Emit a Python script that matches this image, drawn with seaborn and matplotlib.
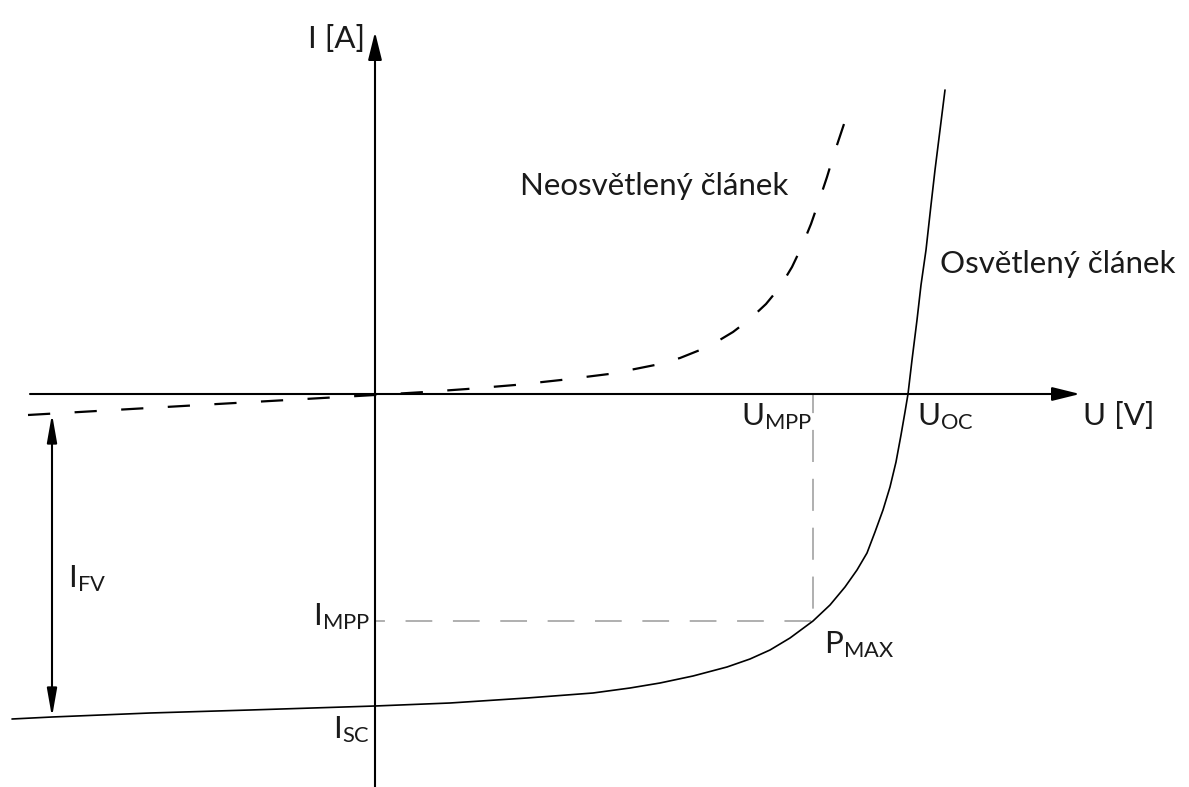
import matplotlib
matplotlib.use("Agg")
import matplotlib.pyplot as plt
import seaborn as sns
import pandas as pd

# Current-voltage characteristic of a PV cell (schematic units)
# Illuminated cell (solid curve)
u_lit = [-3.63, -3.23, -2.25, -1.25, 0.00, 0.75, 1.52, 2.18, 2.55, 2.85, 3.18,
         3.52, 3.75, 3.95, 4.15, 4.38, 4.55, 4.70, 4.82, 4.92, 5.00, 5.08, 5.15,
         5.21, 5.26, 5.30, 5.33, 5.37, 5.42, 5.46, 5.51, 5.56, 5.60, 5.65, 5.70]
i_lit = [-3.25, -3.23, -3.19, -3.16, -3.12, -3.09, -3.04, -2.99, -2.94, -2.89, -2.82,
         -2.73, -2.65, -2.56, -2.44, -2.27, -2.11, -1.93, -1.76, -1.59, -1.38, -1.16, -0.93,
         -0.68, -0.41, -0.18, 0.00, 0.34, 0.74, 1.09, 1.44, 1.89, 2.24, 2.64, 3.04]

# Dark cell (dashed curve)
u_dark = [-3.47, -1.75, 0.00, 0.50, 0.92, 1.40, 1.86, 2.34, 2.60, 2.80, 3.05, 3.25,
          3.43, 3.58, 3.75, 3.91, 4.05, 4.17, 4.27, 4.36, 4.44, 4.52, 4.59, 4.66, 4.73]
i_dark = [-0.21, -0.11, -0.01, 0.02, 0.05, 0.09, 0.14, 0.20, 0.25, 0.29, 0.36, 0.44,
          0.53, 0.62, 0.75, 0.90, 1.07, 1.27, 1.48, 1.70, 1.93, 2.17, 2.40, 2.61, 2.82]

# Characteristic points
U_MPP = 4.38
I_MPP = -2.27
U_OC = 5.33
I_SC = -3.12
U_FV = -3.23          # position of the photocurrent dimension arrow
I_FV_TOP = -0.20
I_FV_BOTTOM = -3.23

# Axis extents
U_MIN, U_MAX = -3.75, 8.14
I_MIN, I_MAX = -3.93, 3.94
U_AXIS_START, U_AXIS_END = -3.45, 7.05
I_AXIS_START, I_AXIS_END = -3.93, 3.62

lit = pd.DataFrame({"U": u_lit, "I": i_lit})
dark = pd.DataFrame({"U": u_dark, "I": i_dark})

sns.set_theme(style="white")
plt.rcParams["font.family"] = ["Lato", "DejaVu Sans"]
plt.rcParams["mathtext.fontset"] = "custom"
plt.rcParams["mathtext.rm"] = "Lato"
plt.rcParams["mathtext.default"] = "regular"

fig = plt.figure(figsize=(11.89, 7.87), dpi=100)
ax = fig.add_axes([0, 0, 1, 1])
ax.set_xlim(U_MIN, U_MAX)
ax.set_ylim(I_MIN, I_MAX)
ax.axis("off")

ink = "#1a1a1a"
grey = "#9a9a9a"

# Axes with arrow heads
arrow_kw = dict(arrowstyle="-|>,head_length=1.7,head_width=0.42", color="black",
                lw=1.5, shrinkA=0, shrinkB=0, mutation_scale=10)
ax.annotate("", xy=(U_AXIS_END, 0), xytext=(U_AXIS_START, 0), arrowprops=arrow_kw)
ax.annotate("", xy=(0, I_AXIS_END), xytext=(0, I_AXIS_START), arrowprops=arrow_kw)

# Maximum power point guides
ax.plot([U_MPP, U_MPP], [0, I_MPP], color=grey, lw=1.1,
        linestyle=(8.5, (21, 11)))
ax.plot([0, U_MPP], [I_MPP, I_MPP], color=grey, lw=1.1,
        linestyle=(11, (17.5, 13.5)))

# Curves
sns.lineplot(data=dark, x="U", y="I", ax=ax, color="black", lw=1.6,
             estimator=None, sort=False)
ax.lines[-1].set_dashes((10, 11))
sns.lineplot(data=lit, x="U", y="I", ax=ax, color="black", lw=1.2,
             estimator=None, sort=False)

# Photocurrent dimension arrow
ax.annotate("", xy=(U_FV, I_FV_BOTTOM), xytext=(U_FV, I_FV_TOP),
            arrowprops=dict(arrowstyle="<|-|>,head_length=1.7,head_width=0.3",
                            color="black", lw=1.5, shrinkA=0, shrinkB=0,
                            mutation_scale=10))

fs = 22.5
txt = dict(color=ink, fontsize=fs, ha="left", va="baseline")
ax.text(-0.67, 3.46, "I [A]", **txt)
ax.text(7.08, -0.31, "U [V]", **txt)
ax.text(1.45, 1.99, "Neosvětlený článek", **txt)
ax.text(5.65, 1.21, "Osvětlený článek", **txt)
ax.text(3.66, -0.31, r"$U_{MPP}$", **txt)
ax.text(5.42, -0.31, r"$U_{OC}$", **txt)
ax.text(4.49, -2.59, r"$P_{MAX}$", **txt)
ax.text(-3.07, -1.93, r"$I_{FV}$", **txt)
ax.text(-0.62, -2.31, r"$I_{MPP}$", **txt)
ax.text(-0.42, -3.44, r"$I_{SC}$", **txt)

fig.savefig("out.png", dpi=100, facecolor="white")
